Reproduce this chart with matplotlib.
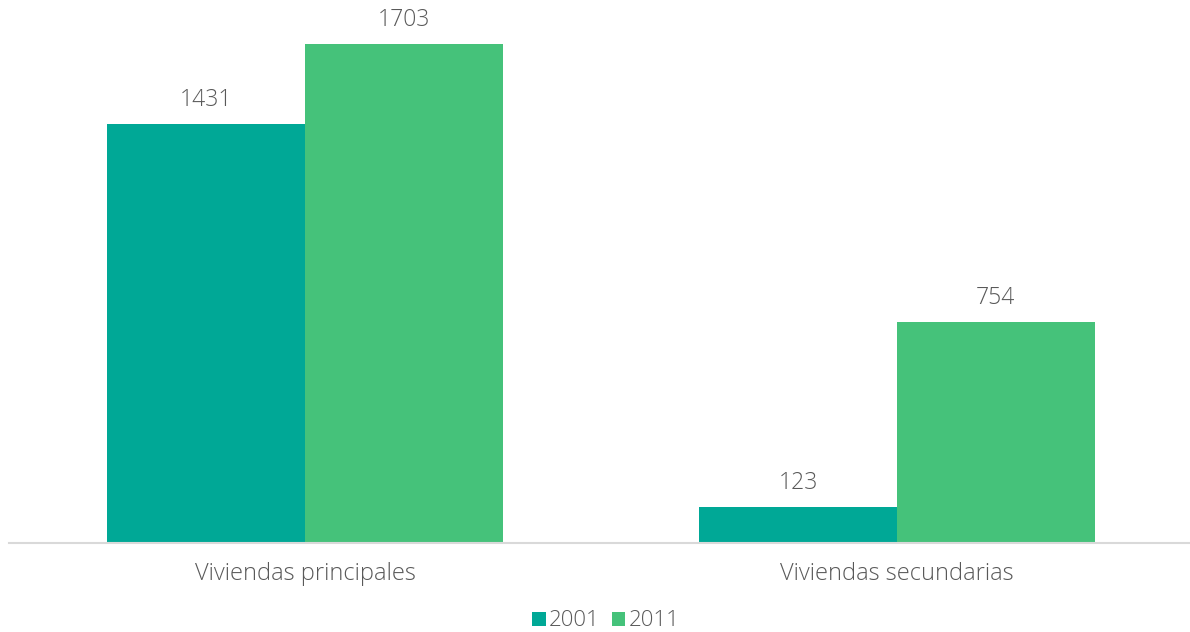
import matplotlib.pyplot as plt
import numpy as np

categories = ["Viviendas principales", "Viviendas secundarias"]
series = ["2001", "2011"]
values_2001 = [1431, 123]
values_2011 = [1703, 754]

colors = ["#00A896", "#45C27A"]
text_color = "#595959"

plt.rcParams["font.family"] = ["Open Sans", "DejaVu Sans"]

fig = plt.figure(figsize=(11.9, 6.32), dpi=100)
ax = fig.add_axes([9 / 1190, 89 / 632, 1184 / 1190, 543 / 632])

x = np.arange(len(categories))
w = 0.334
bars1 = ax.bar(x - w / 2, values_2001, w, color=colors[0], label=series[0])
bars2 = ax.bar(x + w / 2, values_2011, w, color=colors[1], label=series[1])

for bars in (bars1, bars2):
    for b in bars:
        ax.text(b.get_x() + b.get_width() / 2, b.get_height() + 40, f"{int(b.get_height())}",
                ha="center", va="bottom", fontsize=16.5, color=text_color, fontweight="light")

ax.set_xlim(-0.5, 1.5)
ax.set_ylim(0, 1703 * 543 / 499)
ax.set_xticks(x)
ax.set_xticklabels(categories, fontsize=17, color=text_color, fontweight="light")
ax.tick_params(axis="x", length=0, pad=14)
ax.set_yticks([])
for s in ["top", "right", "left"]:
    ax.spines[s].set_visible(False)
ax.spines["bottom"].set_color("#d9d9d9")
ax.spines["bottom"].set_linewidth(1.5)

leg = fig.legend(loc="center", bbox_to_anchor=(606 / 1190, 11 / 632), ncol=2, frameon=False,
                 fontsize=16, handlelength=0.6, handleheight=0.6, handletextpad=0.15,
                 columnspacing=0.55, labelcolor=text_color)
for t in leg.get_texts():
    t.set_fontweight("light")

fig.savefig("out.png", dpi=100)
